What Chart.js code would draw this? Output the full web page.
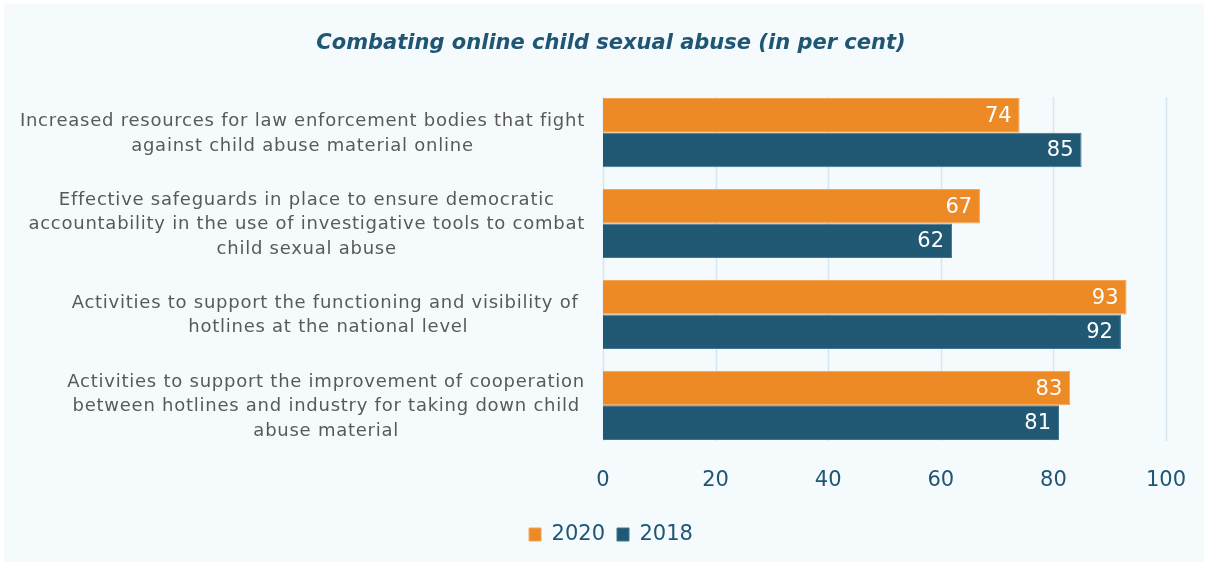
<!DOCTYPE html>
<html>
<head>
<meta charset="utf-8">
<script src="https://cdn.jsdelivr.net/npm/chart.js@4/dist/chart.umd.min.js"></script>
<style>
  html, body { margin: 0; padding: 0; background: #ffffff; }
  #panel { position: absolute; left: 4px; top: 4px; width: 1200px; height: 558px; background: #f5fafd; }
</style>
</head>
<body>
<div id="panel"><canvas id="barChart" width="1200" height="558"></canvas></div>
<script>
// Datos de la gráfica
const categorias = [
  ["Increased resources for law enforcement bodies that fight", "against child abuse material online"],
  ["Effective safeguards in place to ensure democratic", "accountability in the use of investigative tools to combat", "child sexual abuse"],
  ["Activities to support the functioning and visibility of ", "hotlines at the national level"],
  ["Activities to support the improvement of cooperation", "between hotlines and industry for taking down child", "abuse material"]
];
const series = ["2020", "2018"];
const valores2020 = [74, 67, 93, 83];
const valores2018 = [85, 62, 92, 81];
const ticksX = [0, 20, 40, 60, 80, 100];

const naranja = "#ee8a25";
const azul = "#215975";
const textoAzul = "#1f5673";
const colorRejilla = "#d6e7f2";
const fuente = "DejaVu Sans";

// Líneas verticales de la rejilla, solo sobre la zona de las barras
const rejilla = {
  id: "rejilla",
  beforeDatasetsDraw(chart) {
    const ctx = chart.ctx;
    const x = chart.scales.x;
    const y = chart.scales.y;
    const paso = y.getPixelForValue(1) - y.getPixelForValue(0);
    const arriba = y.getPixelForValue(0) - paso * 0.38 - 1;
    const abajo = y.getPixelForValue(categorias.length - 1) + paso * 0.38 + 1;
    ctx.save();
    ctx.strokeStyle = colorRejilla;
    ctx.lineWidth = 1.5;
    ticksX.forEach(v => {
      const px = Math.round(x.getPixelForValue(v)) + 0.5;
      ctx.beginPath();
      ctx.moveTo(px, arriba);
      ctx.lineTo(px, abajo);
      ctx.stroke();
    });
    ctx.restore();
  }
};

// Etiquetas del eje Y: bloque alineado a la derecha, líneas centradas
const etiquetasY = {
  id: "etiquetasY",
  afterDraw(chart) {
    const ctx = chart.ctx;
    const y = chart.scales.y;
    const derecha = chart.chartArea.left - 18;
    const alto = 24.5;
    ctx.save();
    ctx.font = "18px '" + fuente + "'";
    ctx.letterSpacing = "0.75px";
    ctx.fillStyle = "#595959";
    ctx.textAlign = "center";
    ctx.textBaseline = "middle";
    categorias.forEach((lineas, i) => {
      const cy = y.getPixelForValue(i) + 1;
      const ancho = Math.max(...lineas.map(l => ctx.measureText(l).width));
      const cx = derecha - ancho / 2;
      lineas.forEach((l, k) => {
        ctx.fillText(l, cx, cy + (k - (lineas.length - 1) / 2) * alto);
      });
    });
    ctx.restore();
  }
};

// Valores dentro de las barras
const valoresBarras = {
  id: "valoresBarras",
  afterDatasetsDraw(chart) {
    const ctx = chart.ctx;
    ctx.save();
    ctx.font = "21px '" + fuente + "'";
    ctx.fillStyle = "#ffffff";
    ctx.textAlign = "right";
    ctx.textBaseline = "middle";
    chart.data.datasets.forEach((ds, d) => {
      chart.getDatasetMeta(d).data.forEach((bar, i) => {
        ctx.fillText(String(ds.data[i]), bar.x - 8, bar.y + 1);
      });
    });
    ctx.restore();
  }
};

const ctx = document.getElementById("barChart");

new Chart(ctx, {
  type: "bar",
  data: {
    labels: categorias.map(c => c.join(" ")),
    datasets: [
      { label: series[0], data: valores2020, backgroundColor: naranja, borderColor: "#f3a656", borderWidth: 1 },
      { label: series[1], data: valores2018, backgroundColor: azul, borderColor: "#3f7594", borderWidth: 1 }
    ]
  },
  options: {
    indexAxis: "y",
    responsive: false,
    animation: false,
    layout: { padding: { left: 52, right: 38, top: 0, bottom: 7 } },
    datasets: { bar: { categoryPercentage: 0.76, barPercentage: 1 } },
    scales: {
      x: {
        min: 0,
        max: 100,
        afterBuildTicks: (scale) => { scale.ticks = ticksX.map(v => ({ value: v })); },
        afterFit: (scale) => {
          scale.height += 2;
          scale.paddingRight = 0;
          scale.paddingLeft = 0;
        },
        grid: { display: false, drawTicks: false },
        border: { display: false },
        ticks: { color: textoAzul, font: { family: fuente, size: 21 }, padding: 17 }
      },
      y: {
        grid: { display: false, drawTicks: false },
        border: { display: false },
        ticks: { display: false },
        afterFit: (scale) => { scale.width = 547; }
      }
    },
    plugins: {
      title: {
        display: true,
        text: "Combating online child sexual abuse (in per cent)",
        color: textoAzul,
        font: { family: fuente, size: 21, weight: "bold", style: "italic" },
        padding: { top: 27, bottom: 31 }
      },
      legend: {
        position: "bottom",
        labels: {
          color: textoAzul,
          font: { family: fuente, size: 21 },
          boxWidth: 12,
          boxHeight: 13,
          padding: 12
        }
      },
      tooltip: { enabled: false }
    }
  },
  plugins: [rejilla, etiquetasY, valoresBarras]
});
</script>
</body>
</html>
